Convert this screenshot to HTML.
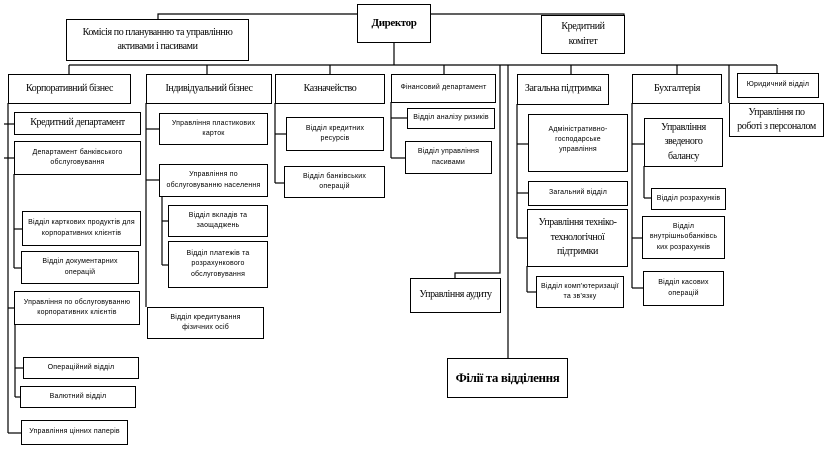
<!DOCTYPE html>
<html><head><meta charset="utf-8"><style>
html,body{margin:0;padding:0;background:#fff;}
body{width:828px;height:449px;position:relative;overflow:hidden;}
.b{position:absolute;border:1.3px solid #000;box-sizing:border-box;display:flex;align-items:center;justify-content:center;text-align:center;background:#fff;color:#000;line-height:1.45;}
.s{font-family:"Liberation Serif",serif;font-size:10px;letter-spacing:-0.4px;}
.a{font-family:"Liberation Sans",sans-serif;font-size:7px;letter-spacing:0.2px;}
svg{position:absolute;left:0;top:0;}
</style></head><body>
<svg width="828" height="449" stroke="#000" stroke-width="1.2" fill="none">
<polyline points="158,19 158,14 357,14"/>
<polyline points="430,14 624,14 624,15"/>
<line x1="394" y1="42" x2="394" y2="65"/>
<line x1="69" y1="65" x2="777" y2="65"/>
<line x1="69" y1="65" x2="69" y2="74"/>
<line x1="207" y1="65" x2="207" y2="74"/>
<line x1="330" y1="65" x2="330" y2="74"/>
<line x1="444" y1="65" x2="444" y2="74"/>
<line x1="571" y1="65" x2="571" y2="74"/>
<line x1="677" y1="65" x2="677" y2="74"/>
<line x1="777" y1="65" x2="777" y2="73"/>
<line x1="729" y1="65" x2="729" y2="103"/>
<polyline points="500,65 500,273 455,273 455,278"/>
<line x1="508" y1="65" x2="508" y2="358"/>
<!-- corporate -->
<line x1="8" y1="103" x2="8" y2="433"/>
<line x1="4" y1="124" x2="14" y2="124"/>
<line x1="4" y1="158" x2="14" y2="158"/>
<line x1="14" y1="174" x2="14" y2="268"/>
<line x1="14" y1="229" x2="22" y2="229"/>
<line x1="14" y1="268" x2="21" y2="268"/>
<line x1="8" y1="308" x2="14" y2="308"/>
<line x1="15" y1="324" x2="15" y2="397"/>
<line x1="15" y1="368" x2="23" y2="368"/>
<line x1="15" y1="397" x2="20" y2="397"/>
<line x1="8" y1="433" x2="21" y2="433"/>
<!-- individual -->
<line x1="146" y1="103" x2="146" y2="307"/>
<line x1="146" y1="129" x2="159" y2="129"/>
<line x1="146" y1="180" x2="159" y2="180"/>
<line x1="162" y1="196" x2="162" y2="265"/>
<line x1="162" y1="221" x2="168" y2="221"/>
<line x1="162" y1="265" x2="168" y2="265"/>
<!-- treasury -->
<line x1="275" y1="103" x2="275" y2="183"/>
<line x1="275" y1="134" x2="286" y2="134"/>
<line x1="275" y1="183" x2="284" y2="183"/>
<!-- fin -->
<line x1="391" y1="102" x2="391" y2="158"/>
<line x1="391" y1="118" x2="407" y2="118"/>
<line x1="391" y1="158" x2="405" y2="158"/>
<!-- general -->
<line x1="517" y1="104" x2="517" y2="238"/>
<line x1="517" y1="144" x2="528" y2="144"/>
<line x1="517" y1="193" x2="528" y2="193"/>
<line x1="517" y1="238" x2="527" y2="238"/>
<line x1="527" y1="266" x2="527" y2="292"/>
<line x1="527" y1="292" x2="536" y2="292"/>
<!-- accounting -->
<line x1="632" y1="103" x2="632" y2="288"/>
<line x1="632" y1="144" x2="644" y2="144"/>
<line x1="644" y1="166" x2="644" y2="198"/>
<line x1="644" y1="198" x2="651" y2="198"/>
<line x1="632" y1="238" x2="642" y2="238"/>
<line x1="632" y1="288" x2="643" y2="288"/>
</svg>

<div class="b s" style="left:357px;top:4px;width:74px;height:39px;font-weight:bold;font-size:11px;">Директор</div>
<div class="b s" style="left:66px;top:19px;width:183px;height:42px;">Комісія по плануванню та управлінню<br>активами і пасивами</div>
<div class="b s" style="left:541px;top:15px;width:84px;height:39px;">Кредитний<br>комітет</div>

<div class="b s" style="left:8px;top:74px;width:123px;height:30px;">Корпоративний бізнес</div>
<div class="b s" style="left:146px;top:74px;width:126px;height:30px;">Індивідуальний бізнес</div>
<div class="b s" style="left:275px;top:74px;width:110px;height:30px;">Казначейство</div>
<div class="b a" style="left:391px;top:74px;width:105px;height:29px;">Фінансовий департамент</div>
<div class="b s" style="left:517px;top:74px;width:92px;height:31px;">Загальна підтримка</div>
<div class="b s" style="left:632px;top:74px;width:90px;height:30px;">Бухгалтерія</div>
<div class="b a" style="left:737px;top:73px;width:82px;height:25px;">Юридичний відділ</div>
<div class="b s" style="left:729px;top:103px;width:95px;height:34px;">Управління по<br>роботі з персоналом</div>

<div class="b s" style="left:14px;top:112px;width:127px;height:23px;">Кредитний департамент</div>
<div class="b a" style="left:14px;top:141px;width:127px;height:34px;">Департамент банківського<br>обслуговування</div>
<div class="b a" style="left:22px;top:211px;width:119px;height:35px;">Відділ карткових продуктів для<br>корпоративних клієнтів</div>
<div class="b a" style="left:21px;top:251px;width:118px;height:33px;">Відділ документарних<br>операцій</div>
<div class="b a" style="left:14px;top:291px;width:126px;height:34px;">Управління по обслуговуванню<br>корпоративних клієнтів</div>
<div class="b a" style="left:23px;top:357px;width:116px;height:22px;">Операційний відділ</div>
<div class="b a" style="left:20px;top:386px;width:116px;height:22px;">Валютний відділ</div>
<div class="b a" style="left:21px;top:420px;width:107px;height:25px;">Управління цінних паперів</div>

<div class="b a" style="left:159px;top:113px;width:109px;height:32px;">Управління пластикових<br>карток</div>
<div class="b a" style="left:159px;top:164px;width:109px;height:33px;">Управління по<br>обслуговуванню населення</div>
<div class="b a" style="left:168px;top:205px;width:100px;height:32px;">Відділ вкладів та<br>заощаджень</div>
<div class="b a" style="left:168px;top:241px;width:100px;height:47px;">Відділ платежів та<br>розрахункового<br>обслуговування</div>
<div class="b a" style="left:147px;top:307px;width:117px;height:32px;">Відділ кредитування<br>фізичних осіб</div>

<div class="b a" style="left:286px;top:117px;width:98px;height:34px;">Відділ кредитних<br>ресурсів</div>
<div class="b a" style="left:284px;top:166px;width:101px;height:32px;">Відділ банківських<br>операцій</div>

<div class="b a" style="left:407px;top:108px;width:88px;height:21px;">Відділ аналізу ризиків</div>
<div class="b a" style="left:405px;top:141px;width:87px;height:33px;">Відділ управління<br>пасивами</div>

<div class="b s" style="left:410px;top:278px;width:91px;height:35px;">Управління аудиту</div>
<div class="b s" style="left:447px;top:358px;width:121px;height:40px;font-weight:bold;font-size:13px;">Філії та відділення</div>

<div class="b a" style="left:528px;top:114px;width:100px;height:58px;align-items:flex-start;padding-top:10px;">Адміністративно-<br>господарське<br>управління</div>
<div class="b a" style="left:528px;top:181px;width:100px;height:25px;">Загальний відділ</div>
<div class="b s" style="left:527px;top:209px;width:101px;height:58px;">Управління техніко-<br>технологічної<br>підтримки</div>
<div class="b a" style="left:536px;top:276px;width:88px;height:32px;">Відділ комп'ютеризації<br>та зв'язку</div>

<div class="b s" style="left:644px;top:118px;width:79px;height:49px;">Управління<br>зведеного<br>балансу</div>
<div class="b a" style="left:651px;top:188px;width:75px;height:22px;">Відділ розрахунків</div>
<div class="b a" style="left:642px;top:216px;width:83px;height:43px;">Відділ<br>внутрішньобанківсь<br>ких розрахунків</div>
<div class="b a" style="left:643px;top:271px;width:81px;height:35px;">Відділ касових<br>операцій</div>
</body></html>
